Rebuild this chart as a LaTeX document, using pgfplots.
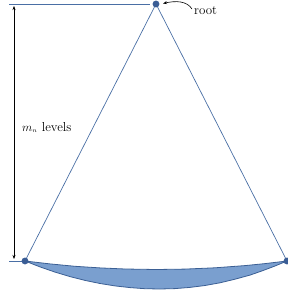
\documentclass[border=0pt]{standalone}
\usepackage{pgfplots}
\pgfplotsset{compat=1.18}
\usetikzlibrary{arrows.meta}
\definecolor{lineblue}{HTML}{4A6FA5}
\definecolor{dotblue}{HTML}{3A5D95}
\definecolor{lensfill}{HTML}{7A9FCF}
\definecolor{lensdraw}{HTML}{3B5F94}
\begin{document}
\begin{tikzpicture}
\begin{axis}[
  width=288bp, height=297bp, scale only axis,
  xmin=0, xmax=288, ymin=0, ymax=297, y dir=reverse,
  axis lines=none, clip=false,
]
% lens (leaf level)
\addplot[fill=lensfill, draw=lensdraw, line width=0.8pt] coordinates {
 (25,261) (50,263.9) (75,266.3) (100,267.9) (125,269.0) (156,269.5) (185,269.1) (215,267.8) (245,265.6) (265,263.6) (287,261)
 (275,266.0) (262,270.9) (250,275.1) (235,279.2) (220,282.8) (205,285.5) (190,287.4) (175,288.6) (160,289) (145,288.7) (130,287.6) (115,285.9) (100,283.5) (85,280.4) (70,276.6) (55,272.1) (40,266.9) (25,261)
};
% triangle edges
\addplot[lineblue, line width=0.7pt] coordinates {(25,261) (156,4) (287,261)};
% horizontal guide lines
\addplot[lineblue, line width=0.7pt] coordinates {(9,4) (150,4)};
\addplot[lineblue, line width=0.7pt] coordinates {(9,261) (25,261)};
% vertical double arrow
\addplot[black, line width=0.45pt, {Stealth[length=4pt,width=3pt]}-{Stealth[length=4pt,width=3pt]}] coordinates {(14,6) (14,259)};
% nodes
\addplot[only marks, mark=*, mark size=3.2pt, dotblue] coordinates {(156,4) (25,261) (287,261)};
\node[anchor=base west, inner sep=0pt, font=\fontsize{13}{15}\selectfont] at (axis cs:22,131) {$m_{\scriptscriptstyle n}$ levels};
\node[anchor=base west, inner sep=0pt, font=\fontsize{13}{15}\selectfont] at (axis cs:194,15) {root};
\draw[black, line width=0.6pt, -{Stealth[length=4pt,width=3pt]}] (axis cs:192,9) .. controls (axis cs:187,1) and (axis cs:176,0.5) .. (axis cs:163,3.5);
\end{axis}
\pgfresetboundingbox
\path[use as bounding box] (current axis.south west) rectangle (current axis.north east);
\end{tikzpicture}
\end{document}
